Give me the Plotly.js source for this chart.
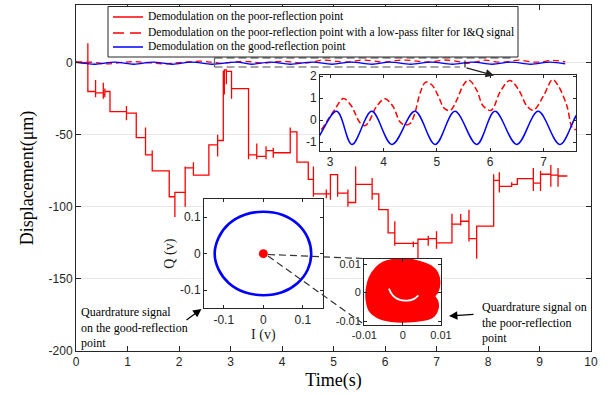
<!DOCTYPE html>
<html>
<head>
<meta charset="utf-8">
<script src="https://cdn.plot.ly/plotly-3.0.1.min.js"></script>
<style>html,body{margin:0;padding:0;background:#fff;}#chart{width:612px;height:395px;}</style>
</head>
<body>
<div id="chart"></div>
<script>
// ---------- DATA ----------
// Main: demodulation on the poor-reflection point (step trace, value changes at each time)
const poorT = [0, 0.23, 0.23, 0.23, 0.38, 0.38, 0.38, 0.53, 0.53, 0.53, 0.56, 0.56, 0.56, 0.66,
  0.98, 0.98, 0.98, 1.17, 1.17, 1.35, 1.35, 1.48, 1.48, 1.81, 1.92, 1.92, 2.12, 2.12, 2.12,
  2.28, 2.28, 2.58, 2.75, 2.75, 2.75, 2.86, 2.88, 2.88, 2.92, 2.92, 3.02, 3.02,
  3.35, 3.35, 3.51, 3.51, 3.51, 3.69, 3.69, 3.69, 3.83, 3.83, 3.83, 4.16, 4.16, 4.29, 4.51,
  4.61, 4.61, 4.61, 4.86, 4.86, 4.86, 4.94, 4.94, 5.08, 5.08, 5.28, 5.28, 5.28, 5.43, 5.43,
  5.75, 5.75, 5.75, 5.88, 6.06, 6.19, 6.19, 6.19, 6.55, 6.55, 6.55, 6.64, 6.64,
  6.84, 6.84, 6.84, 7.0, 7.0, 7.0, 7.3, 7.3, 7.47, 7.47, 7.47, 7.63, 7.63, 7.63, 7.78, 7.78,
  8.11, 8.11, 8.22, 8.22, 8.22, 8.46, 8.46, 8.46, 8.57, 8.88, 8.88, 8.88, 9.02, 9.02, 9.02,
  9.22, 9.22, 9.22, 9.36, 9.36, 9.36, 9.54];
const poorD = [0, 0, 13.5, -20, -12, -24, -21, -14, -25, -22, -18, -24, -20, -34,
  -30, -40, -35, -41, -52, -45, -64, -61, -75, -93, -107, -90, -100, -72, -73,
  -69, -78, -57, -65, -50, -54, -6, -22, -5, -15, -6, -25, -18,
  -67, -64, -56, -67, -65, -58, -67, -61, -59, -66, -62.5, -45, -48, -69, -81,
  -72, -93, -91, -88, -94, -91, -95, -77.6, -93, -90.5, -88, -100, -97, -72, -84.4,
  -80, -95, -91, -102, -118, -110, -127, -125.3, -124, -128, -125.3, -136, -122.5,
  -120, -127, -122, -117, -129, -125, -104.8, -112, -105, -113, -110, -102, -124, -122, -136, -113.4,
  -77.4, -81.6, -76, -90, -85.8, -83, -86, -84.4, -80.4, -73, -89, -83.5, -75, -89, -77.4,
  -71, -86, -78, -73, -86, -78.6, -78.6];

// Demodulation on the poor-reflection point with a low-pass filter for I&Q signal
const filtT = [0, 0.3, 0.6, 0.9, 1.15, 1.45, 1.75, 2.05, 2.4, 2.65, 2.81, 2.94, 3.09, 3.25, 3.4, 3.47,
  3.56, 3.65, 3.72, 3.87, 4.03, 4.19, 4.3, 4.4, 4.5, 4.58, 4.69, 4.79, 4.9, 5.03, 5.13, 5.2, 5.26,
  5.38, 5.5, 5.6, 5.75, 5.87, 6.02, 6.19, 6.37, 6.53, 6.69, 6.81, 7.0, 7.17, 7.28, 7.44, 7.53,
  7.58, 7.61, 7.75, 7.95, 8.15, 8.3, 8.6, 8.85, 9.0, 9.25, 9.5];
const filtD = [0.5, 0.3, -0.8, 0.2, 0.7, -0.2, -0.8, 0.2, 1.0, 0.3, -0.45, -0.05, 0.5, 0.98, 0.64, 0.3,
  -0.12, -0.25, -0.1, 0.62, 0.97, 0.58, -0.05, -0.22, -0.15, 0.25, 1.25, 1.72, 1.62, 1.08, 0.56, 0.45, 0.45,
  0.94, 1.6, 1.82, 1.35, 0.64, 0.45, 1.3, 1.8, 1.4, 0.64, 0.45, 1.1, 1.84, 1.55, 0.64, -0.3,
  -0.42, -0.42, 0.3, 1.7, 0.6, 0.4, 1.7, 0.5, 0.4, 1.6, 0.5];

// Demodulation on the good-reflection point (peaks and troughs)
const goodT = [0, 0.37, 0.75, 1.12, 1.5, 1.87, 2.25, 2.64, 3.12, 3.41, 3.78, 4.16, 4.59, 4.97,
  5.34, 5.75, 6.09, 6.5, 6.9, 7.31, 7.7, 8.08, 8.45, 8.83, 9.2, 9.5];
const goodD = [0.4, -1.1, 0.4, -1.1, 0.4, -1.1, 0.4, -1.1, 0.4, -1.1, 0.4, -1.1, 0.4, -1.1,
  0.4, -1.1, 0.4, -1.1, 0.4, -1.1, 0.4, -1.1, 0.4, -1.1, 0.4, -0.9];

// Quadrature signal on the good-reflection point (I, Q in V)
const goodI = [0.121, 0.112, 0.086, 0.047, 0, -0.047, -0.087, -0.113, -0.123, -0.113, -0.087, -0.047, 0, 0.047, 0.086, 0.112, 0.121];
const goodQ = [0, 0.044, 0.082, 0.107, 0.115, 0.107, 0.082, 0.044, 0, -0.044, -0.081, -0.106, -0.114, -0.106, -0.081, -0.044, 0];
// Quadrature signal on the poor-reflection point (seen at the good-point scale)
const poorDotI = [0];
const poorDotQ = [0];
// Outline of the poor-reflection quadrature cloud
const cloudI = [-0.0030, 0.0013, 0.0047, 0.0073, 0.0090, 0.0096, 0.0090, 0.0083, 0.0090, 0.0092, 0.0081, 0.0055,
  0.0013, -0.0030, -0.0064, -0.0086, -0.0094, -0.0094, -0.0086, -0.0068, -0.0051, -0.0030];
const cloudQ = [0.0114, 0.0117, 0.0107, 0.0093, 0.0070, 0.0035, 0.0000, -0.0012, -0.0029, -0.0053, -0.0082, -0.0096,
  -0.0102, -0.0100, -0.0088, -0.0064, -0.0029, 0.0012, 0.0053, 0.0088, 0.0105, 0.0114];
// Empty crescent inside the cloud
const holeI = [-0.0036, -0.0026, -0.0009, 0.0013, 0.0030, 0.0041];
const holeQ = [0.0014, -0.0010, -0.0025, -0.0028, -0.0022, -0.0010];

// Tick labels
const mainXTicks = [0,1,2,3,4,5,6,7,8,9,10];
const mainYTicks = [-200,-150,-100,-50,0];
const mainYText = ['-200','-150','-100','-50','0'];
const zoomXTicks = [3,4,5,6,7];
const zoomYTicks = [-1,0,1,2];
const zoomYText = ['-1','0','1','2'];
const goodTicks = [-0.1,0,0.1];
const goodText = ['-0.1','0','0.1'];
const poorTicks = [-0.01,0,0.01];
const poorText = ['-0.01','0','0.01'];

const legendNames = ['Demodulation on the poor-reflection point',
  'Demodulation on the poor-reflection point with a low-pass filter for I&amp;Q signal',
  'Demodulation on the good-reflection point'];

// ---------- LAYOUT HELPERS ----------
const PL = 76, PR = 591, PT = 5, PB = 351;
const px = x => (x - PL) / (PR - PL);
const py = y => (PB - y) / (PB - PT);

const RED = '#ff0000', BLUE = '#0000ff', FRAME = '#262626';
const SANS = 'Liberation Sans, Arial, sans-serif';
const SERIF = 'Liberation Serif, Times New Roman, serif';

const zoomXR = [2.81, 7.61], zoomYR = [-1.4, 2.05];
const goodR = [-0.15, 0.15];
const poorXR = [-0.0101, 0.0100], poorYR = [-0.0114, 0.0118];

function boxAxis(extra) {
  return Object.assign({
    showline: true, mirror: 'ticks', linecolor: FRAME, linewidth: 1,
    ticks: 'inside', ticklen: 4, tickcolor: FRAME, showgrid: false, zeroline: false,
    tickmode: 'array', tickfont: {family: SANS, size: 12, color: FRAME}, fixedrange: true
  }, extra);
}

const traces = [
  {x: poorT, y: poorD, type: 'scatter', mode: 'lines', line: {color: RED, width: 1.3, shape: 'hv'}, xaxis: 'x', yaxis: 'y'},
  {x: filtT, y: filtD, type: 'scatter', mode: 'lines', line: {color: RED, width: 1.3, dash: '6px,4px', shape: 'spline'}, xaxis: 'x', yaxis: 'y'},
  {x: goodT, y: goodD, type: 'scatter', mode: 'lines', line: {color: BLUE, width: 1.3, shape: 'spline'}, xaxis: 'x', yaxis: 'y'},
  {x: filtT, y: filtD, type: 'scatter', mode: 'lines', line: {color: RED, width: 1.5, dash: '6px,3px', shape: 'spline'}, xaxis: 'x2', yaxis: 'y2'},
  {x: goodT, y: goodD, type: 'scatter', mode: 'lines', line: {color: BLUE, width: 1.5, shape: 'spline'}, xaxis: 'x2', yaxis: 'y2'},
  {x: goodI, y: goodQ, type: 'scatter', mode: 'lines', line: {color: BLUE, width: 2.6, shape: 'spline'}, xaxis: 'x3', yaxis: 'y3'},
  {x: poorDotI, y: poorDotQ, type: 'scatter', mode: 'markers', marker: {color: RED, size: 9}, xaxis: 'x3', yaxis: 'y3'},
  {x: cloudI, y: cloudQ, type: 'scatter', mode: 'lines', fill: 'toself', fillcolor: RED, line: {color: RED, width: 2, shape: 'spline'}, xaxis: 'x4', yaxis: 'y4'},
  {x: holeI, y: holeQ, type: 'scatter', mode: 'lines', line: {color: '#ffffff', width: 1.8, shape: 'spline'}, xaxis: 'x4', yaxis: 'y4'}
];

const shapes = [
  // white backgrounds of the insets (drawn under each inset's traces)
  {type: 'rect', xref: 'x2', yref: 'y2', x0: zoomXR[0], x1: zoomXR[1], y0: zoomYR[0], y1: zoomYR[1], fillcolor: '#fff', line: {width: 0}, layer: 'below'},
  {type: 'rect', xref: 'x3', yref: 'y3', x0: goodR[0], x1: goodR[1], y0: goodR[0], y1: goodR[1], fillcolor: '#fff', line: {width: 0}, layer: 'below'},
  {type: 'rect', xref: 'x4', yref: 'y4', x0: poorXR[0], x1: poorXR[1], y0: poorYR[0], y1: poorYR[1], fillcolor: '#fff', line: {width: 0}, layer: 'below'},
  // legend box
  {type: 'rect', xref: 'paper', yref: 'paper', x0: px(108), x1: px(518), y0: py(57), y1: py(6.5), fillcolor: '#fff', line: {color: FRAME, width: 1}},
  {type: 'line', xref: 'paper', yref: 'paper', x0: px(113), x1: px(143), y0: py(17), y1: py(17), line: {color: RED, width: 1.5}},
  {type: 'line', xref: 'paper', yref: 'paper', x0: px(113), x1: px(145), y0: py(33), y1: py(33), line: {color: RED, width: 1.5, dash: '11px,6px'}},
  {type: 'line', xref: 'paper', yref: 'paper', x0: px(113), x1: px(143), y0: py(47), y1: py(47), line: {color: BLUE, width: 1.5}},
  // dashed zoom box
  {type: 'line', xref: 'paper', yref: 'paper', x0: px(214.5), x1: px(512), y0: py(57.8), y1: py(57.8), line: {color: '#444', width: 1.3, dash: '8px,4px'}},
  {type: 'line', xref: 'paper', yref: 'paper', x0: px(214.5), x1: px(460), y0: py(67), y1: py(67), line: {color: '#888', width: 1.3, dash: '8px,4px'}},
  {type: 'line', xref: 'paper', yref: 'paper', x0: px(214.5), x1: px(214.5), y0: py(57.8), y1: py(67), line: {color: '#666', width: 1.3}},
  {type: 'line', xref: 'paper', yref: 'paper', x0: px(465), x1: px(465), y0: py(60.5), y1: py(67.5), line: {color: '#222', width: 1.2}},
  // connectors from the red dot to the poor-reflection inset
  {type: 'line', xref: 'paper', yref: 'paper', x0: px(268), x1: px(363), y0: py(254.5), y1: py(258.5), line: {color: '#333', width: 1.2, dash: '7px,4px'}},
  {type: 'line', xref: 'paper', yref: 'paper', x0: px(268), x1: px(362), y0: py(256), y1: py(323), line: {color: '#333', width: 1.2, dash: '7px,4px'}}
];

const annotations = [
  ...legendNames.map((t, i) => ({xref: 'paper', yref: 'paper', x: px(146), y: py([16.7, 33, 46.7][i]), xanchor: 'left', yanchor: 'middle',
    text: t, showarrow: false, font: {family: SERIF, size: 11.5, color: '#000'}})),
  {xref: 'paper', yref: 'paper', x: px(79), y: py(327.5), xanchor: 'left', yanchor: 'middle', align: 'left',
    text: 'Quardrature signal<br>on the good-reflection<br>point', showarrow: false, font: {family: SERIF, size: 12, color: '#000'}},
  {xref: 'paper', yref: 'paper', x: px(480), y: py(322.5), xanchor: 'left', yanchor: 'middle', align: 'left',
    text: 'Quardrature signal on<br>the poor-reflection<br>point', showarrow: false, font: {family: SERIF, size: 12, color: '#000'}},
  // arrows
  {xref: 'paper', yref: 'paper', x: px(201.5), y: py(309), ax: -16.5, ay: 12, axref: 'pixel', ayref: 'pixel', text: '', showarrow: true,
    arrowhead: 2, arrowsize: 1.4, arrowwidth: 1.2, arrowcolor: '#000', standoff: 0, startstandoff: 0},
  {xref: 'paper', yref: 'paper', x: px(449), y: py(316), ax: 26, ay: -1.7, axref: 'pixel', ayref: 'pixel', text: '', showarrow: true,
    arrowhead: 2, arrowsize: 1.4, arrowwidth: 1.2, arrowcolor: '#000', standoff: 0, startstandoff: 0},
  {xref: 'paper', yref: 'paper', x: px(494), y: py(75.5), ax: -29, ay: -8, axref: 'pixel', ayref: 'pixel', text: '', showarrow: true,
    arrowhead: 2, arrowsize: 1.4, arrowwidth: 1.2, arrowcolor: '#222', standoff: 0, startstandoff: 0}
];

const layout = {
  width: 612, height: 395,
  margin: {l: PL, r: 612 - PR, t: PT, b: 395 - PB, pad: 0},
  paper_bgcolor: '#fff', plot_bgcolor: '#fff',
  showlegend: false, hovermode: false,
  xaxis: boxAxis({domain: [0, 1], range: [0, 10], tickvals: mainXTicks, ticklen: 5, anchor: 'y',
    title: {text: 'Time(s)', font: {family: SERIF, size: 18, color: '#000'}, standoff: 4}, automargin: false}),
  yaxis: boxAxis({domain: [0, 1], range: [-200, 40], tickvals: mainYTicks, ticktext: mainYText, ticklen: 5, anchor: 'x',
    showgrid: true, gridcolor: '#e6e6e6', gridwidth: 1,
    title: {text: 'Displacement(μm)', font: {family: SERIF, size: 18, color: '#000'}, standoff: 10}, automargin: false}),
  xaxis2: boxAxis({domain: [px(320), px(576)], range: zoomXR, tickvals: zoomXTicks, anchor: 'y2', ticklen: 3}),
  yaxis2: boxAxis({domain: [py(151), py(75)], range: zoomYR, tickvals: zoomYTicks, ticktext: zoomYText, anchor: 'x2', ticklen: 3}),
  xaxis3: boxAxis({domain: [px(204), px(322.7)], range: goodR, tickvals: goodTicks, ticktext: goodText, anchor: 'y3', ticklen: 3,
    title: {text: 'I (v)', font: {family: SERIF, size: 14, color: '#222'}, standoff: 2}}),
  yaxis3: boxAxis({domain: [py(308.3), py(199)], range: goodR, tickvals: goodTicks, ticktext: goodText, anchor: 'x3', ticklen: 3,
    title: {text: 'Q (v)', font: {family: SERIF, size: 14, color: '#222'}, standoff: 2}}),
  xaxis4: boxAxis({domain: [px(364), px(441)], range: poorXR, tickvals: poorTicks, ticktext: poorText, anchor: 'y4', ticklen: 3,
    tickfont: {family: SANS, size: 11, color: FRAME}}),
  yaxis4: boxAxis({domain: [py(325), py(259)], range: poorYR, tickvals: poorTicks, ticktext: poorText, anchor: 'x4', ticklen: 3,
    tickfont: {family: SANS, size: 11, color: FRAME}}),
  shapes: shapes,
  annotations: annotations
};

Plotly.newPlot('chart', traces, layout, {displayModeBar: false, staticPlot: true});
</script>
</body>
</html>
